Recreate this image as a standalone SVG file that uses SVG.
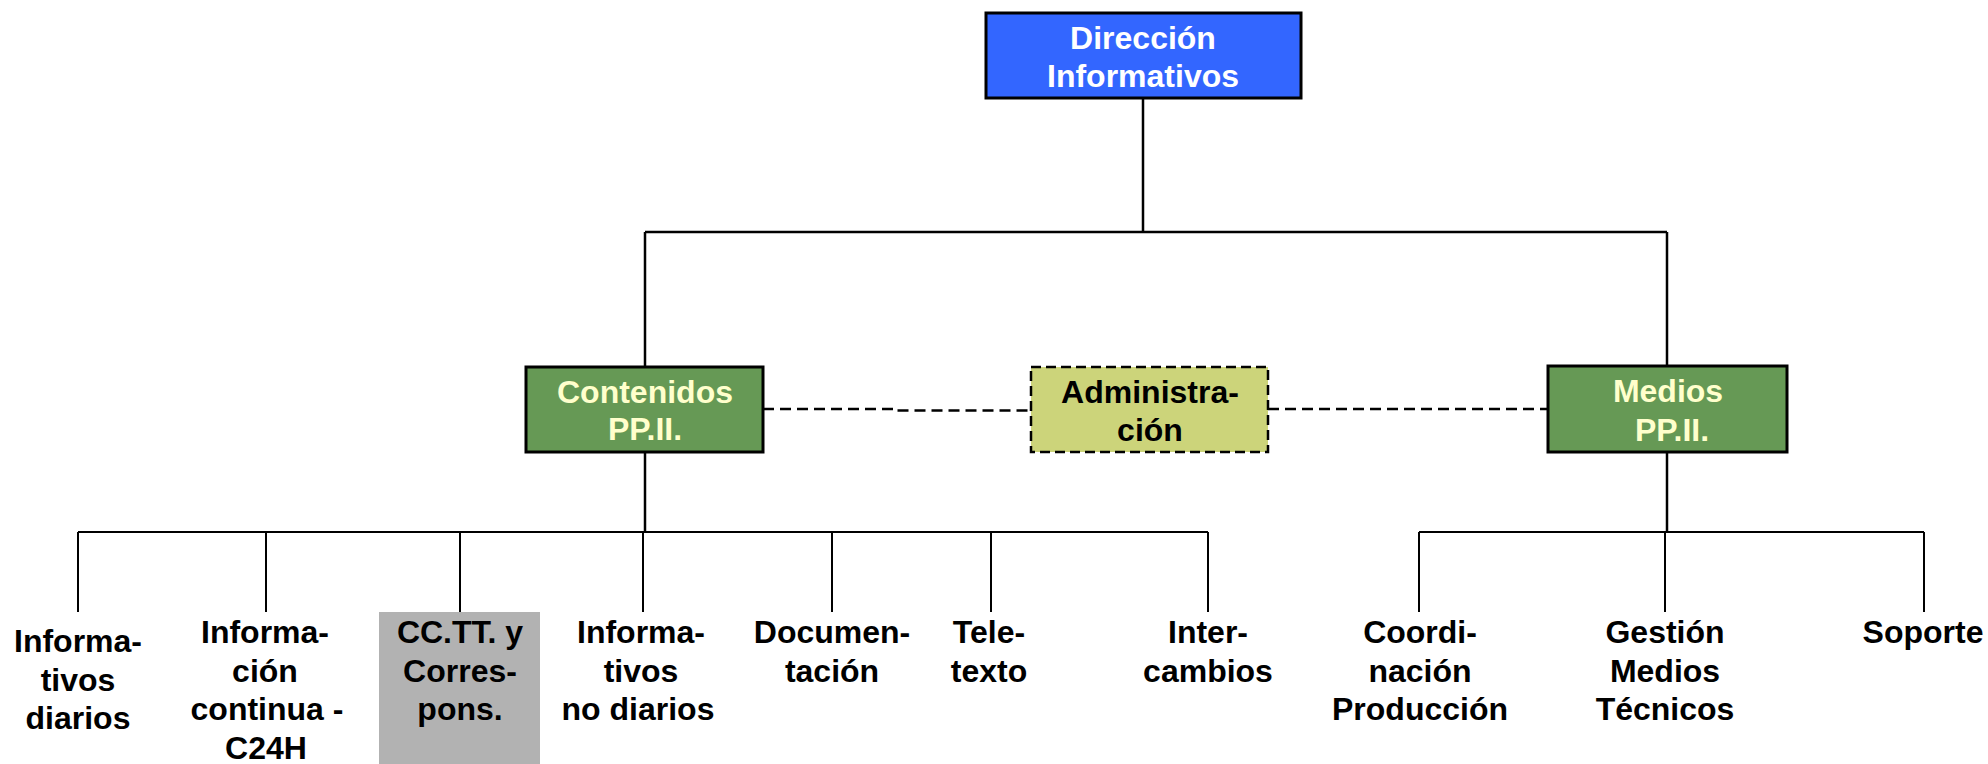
<svg xmlns="http://www.w3.org/2000/svg" width="1988" height="764" viewBox="0 0 1988 764">
<style>
  text { font-family: "Liberation Sans", Arial, sans-serif; font-weight: bold; font-size: 32px; text-anchor: middle; }
  .lbl { fill: #000000; }
  .box { stroke: #000000; stroke-width: 3; }
  .c1 { stroke: #000000; stroke-width: 2.5; fill: none; }
  .c2 { stroke: #000000; stroke-width: 2; fill: none; }
  .dash { stroke: #000000; stroke-width: 2.5; fill: none; stroke-dasharray: 11 6; }
  .green { fill: #669955; }
  .yel { fill: #FFFFCC; }
</style>
<rect width="1988" height="764" fill="#FFFFFF"/>
<g id="connectors">
  <path class="c1" d="M1143 98 V232 M645 232 H1667 M645 232 V367 M1667 232 V366"/>
  <path class="c1" d="M645 452 V532"/>
  <path class="c2" d="M78 532 H1208 M78 532 V612 M266 532 V612 M460 532 V612 M643 532 V612 M832 532 V612 M991 532 V612 M1208 532 V612"/>
  <path class="c1" d="M1667 452 V532"/>
  <path class="c2" d="M1419 532 H1924 M1419 532 V612 M1665 532 V612 M1924 532 V612"/>
  <path class="dash" d="M763 409 H897 V410.5 H1031"/>
  <path class="dash" d="M1268 409 H1548"/>
</g>
<g id="direccion">
  <rect class="box" x="986" y="13" width="315" height="85" fill="#3366FF"/>
  <text x="1143" y="49" fill="#FFFFFF">Dirección</text>
  <text x="1143" y="87" fill="#FFFFFF">Informativos</text>
</g>
<g id="contenidos">
  <rect class="box green" x="526" y="367" width="237" height="85"/>
  <text class="yel" x="645" y="403">Contenidos</text>
  <text class="yel" x="645" y="440">PP.II.</text>
</g>
<g id="administracion">
  <rect x="1031" y="367" width="237" height="85" fill="#CCD47A" stroke="#000000" stroke-width="2.5" stroke-dasharray="10 5"/>
  <text class="lbl" x="1150" y="403">Administra-</text>
  <text class="lbl" x="1150" y="441">ción</text>
</g>
<g id="medios">
  <rect class="box green" x="1548" y="366" width="239" height="86"/>
  <text class="yel" x="1668" y="402">Medios</text>
  <text class="yel" x="1672" y="441">PP.II.</text>
</g>
<g id="informativos-diarios">
  <text class="lbl" x="78" y="652">Informa-</text>
  <text class="lbl" x="78" y="690.5">tivos</text>
  <text class="lbl" x="78" y="729">diarios</text>
</g>
<g id="informacion-continua">
  <text class="lbl" x="265" y="643">Informa-</text>
  <text class="lbl" x="265" y="681.5">ción</text>
  <text class="lbl" x="267" y="720">continua -</text>
  <text class="lbl" x="266" y="758.5">C24H</text>
</g>
<g id="cctt">
  <rect x="379" y="612" width="161" height="152" fill="#B2B2B2"/>
  <text class="lbl" x="460" y="643">CC.TT. y</text>
  <text class="lbl" x="460" y="681.5">Corres-</text>
  <text class="lbl" x="460" y="720">pons.</text>
</g>
<g id="informativos-no-diarios">
  <text class="lbl" x="641" y="643">Informa-</text>
  <text class="lbl" x="641" y="681.5">tivos</text>
  <text class="lbl" x="638" y="720">no diarios</text>
</g>
<g id="documentacion">
  <text class="lbl" x="832" y="643">Documen-</text>
  <text class="lbl" x="832" y="681.5">tación</text>
</g>
<g id="teletexto">
  <text class="lbl" x="989" y="643">Tele-</text>
  <text class="lbl" x="989" y="681.5">texto</text>
</g>
<g id="intercambios">
  <text class="lbl" x="1208" y="643">Inter-</text>
  <text class="lbl" x="1208" y="681.5">cambios</text>
</g>
<g id="coordinacion">
  <text class="lbl" x="1420" y="643">Coordi-</text>
  <text class="lbl" x="1420" y="681.5">nación</text>
  <text class="lbl" x="1420" y="720">Producción</text>
</g>
<g id="gestion">
  <text class="lbl" x="1665" y="643">Gestión</text>
  <text class="lbl" x="1665" y="681.5">Medios</text>
  <text class="lbl" x="1665" y="720">Técnicos</text>
</g>
<g id="soporte">
  <text class="lbl" x="1923" y="643">Soporte</text>
</g>
</svg>
